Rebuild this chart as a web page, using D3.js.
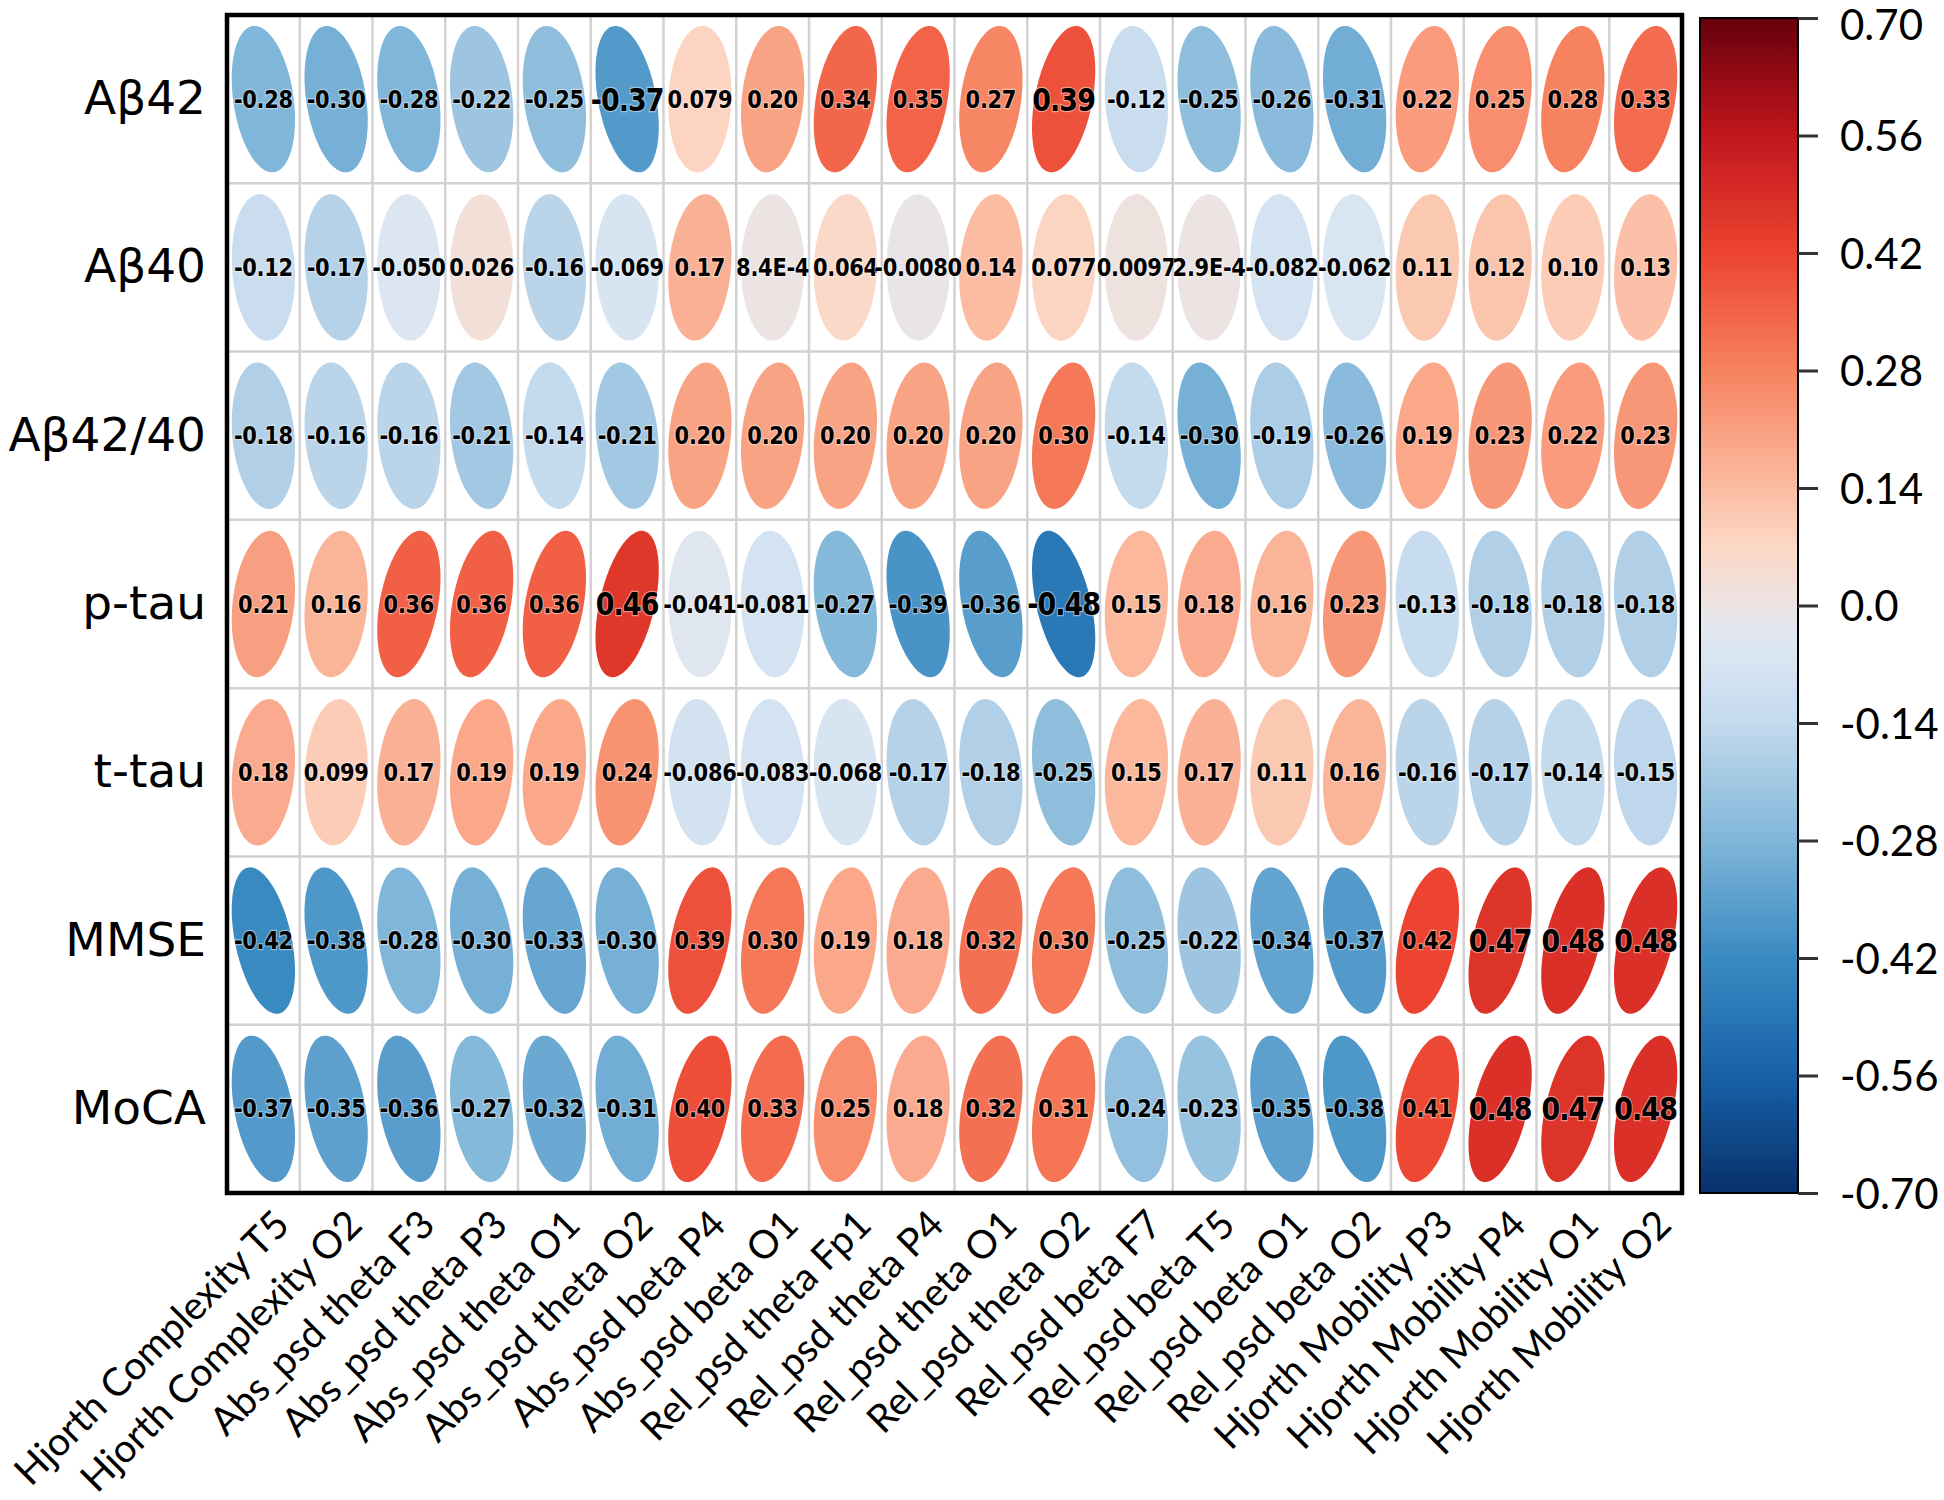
<!DOCTYPE html>
<html><head><meta charset="utf-8">
<script src="https://cdn.jsdelivr.net/npm/d3@7"></script>
<style>body{margin:0;background:#fff}</style>
</head><body>
<svg id="chart" width="1944" height="1500"></svg>
<script>
// ---------------- data ----------------
const rowLabels = ["Aβ42", "Aβ40", "Aβ42/40", "p-tau", "t-tau", "MMSE", "MoCA"];
const colLabels = [
  "Hjorth Complexity T5", "Hjorth Complexity O2",
  "Abs_psd theta F3", "Abs_psd theta P3", "Abs_psd theta O1", "Abs_psd theta O2",
  "Abs_psd beta P4", "Abs_psd beta O1",
  "Rel_psd theta Fp1", "Rel_psd theta P4", "Rel_psd theta O1", "Rel_psd theta O2",
  "Rel_psd beta F7", "Rel_psd beta T5", "Rel_psd beta O1", "Rel_psd beta O2",
  "Hjorth Mobility P3", "Hjorth Mobility P4", "Hjorth Mobility O1", "Hjorth Mobility O2"
];
const valuesAb42   = [-0.28, -0.30, -0.28, -0.22, -0.25, -0.37, 0.079, 0.20, 0.34, 0.35, 0.27, 0.39, -0.12, -0.25, -0.26, -0.31, 0.22, 0.25, 0.28, 0.33];
const valuesAb40   = [-0.12, -0.17, -0.050, 0.026, -0.16, -0.069, 0.17, 8.4e-4, 0.064, -0.0080, 0.14, 0.077, 0.0097, 2.9e-4, -0.082, -0.062, 0.11, 0.12, 0.10, 0.13];
const valuesAb4240 = [-0.18, -0.16, -0.16, -0.21, -0.14, -0.21, 0.20, 0.20, 0.20, 0.20, 0.20, 0.30, -0.14, -0.30, -0.19, -0.26, 0.19, 0.23, 0.22, 0.23];
const valuesPtau   = [0.21, 0.16, 0.36, 0.36, 0.36, 0.46, -0.041, -0.081, -0.27, -0.39, -0.36, -0.48, 0.15, 0.18, 0.16, 0.23, -0.13, -0.18, -0.18, -0.18];
const valuesTtau   = [0.18, 0.099, 0.17, 0.19, 0.19, 0.24, -0.086, -0.083, -0.068, -0.17, -0.18, -0.25, 0.15, 0.17, 0.11, 0.16, -0.16, -0.17, -0.14, -0.15];
const valuesMMSE   = [-0.42, -0.38, -0.28, -0.30, -0.33, -0.30, 0.39, 0.30, 0.19, 0.18, 0.32, 0.30, -0.25, -0.22, -0.34, -0.37, 0.42, 0.47, 0.48, 0.48];
const valuesMoCA   = [-0.37, -0.35, -0.36, -0.27, -0.32, -0.31, 0.40, 0.33, 0.25, 0.18, 0.32, 0.31, -0.24, -0.23, -0.35, -0.38, 0.41, 0.48, 0.47, 0.48];
// cells whose coefficient label is printed larger in the original
const emphasized = [[0, 5], [0, 11], [3, 5], [3, 11], [5, 17], [5, 18], [5, 19], [6, 17], [6, 18], [6, 19]];
const colorTicks = [-0.70, -0.56, -0.42, -0.28, -0.14, 0.0, 0.14, 0.28, 0.42, 0.56, 0.70];
const colorTickLabels = ["-0.70", "-0.56", "-0.42", "-0.28", "-0.14", "0.0", "0.14", "0.28", "0.42", "0.56", "0.70"];
const paletteStops  = [-0.70, -0.56, -0.42, -0.28, -0.14, -0.06, -0.02, 0.0, 0.02, 0.07, 0.14, 0.28, 0.42, 0.56, 0.70];
const paletteColors = ["#08306b", "#1861a8", "#3a8ac2", "#80b6d9", "#c4daed", "#d9e6f3", "#e5e6ed", "#ebe4e3", "#f1e0da", "#fcd8c6", "#fbbca2", "#f7825f", "#ec4431", "#c2161d", "#67000d"];

// ---------------- build table ----------------
const matrix = [valuesAb42, valuesAb40, valuesAb4240, valuesPtau, valuesTtau, valuesMMSE, valuesMoCA];
const cells = [];
matrix.forEach((row, i) => row.forEach((v, j) => cells.push({
  row: rowLabels[i], col: colLabels[j], v,
  big: emphasized.some(e => e[0] === i && e[1] === j)
})));
const fmt = v => (Math.abs(v) < 0.001 ? v.toExponential(1).replace("e", "E") : v.toPrecision(2));

// ---------------- layout ----------------
const svg = d3.select("#chart");
const L = 227, R = 1682, T = 15, B = 1193;
const x = d3.scaleBand().domain(colLabels).range([L, R]);
const y = d3.scaleBand().domain(rowLabels).range([T, B]);
const color = d3.scaleLinear().domain(paletteStops).range(paletteColors).interpolate(d3.interpolateRgb).clamp(true);

svg.append("rect").attr("width", 1944).attr("height", 1500).attr("fill", "#fff");

// grid
const grid = svg.append("g").attr("stroke", "#d2d2d2").attr("stroke-width", 2.5);
grid.selectAll("line.v").data(colLabels.slice(1)).join("line")
  .attr("x1", d => x(d)).attr("x2", d => x(d)).attr("y1", T).attr("y2", B);
grid.selectAll("line.h").data(rowLabels.slice(1)).join("line")
  .attr("y1", d => y(d)).attr("y2", d => y(d)).attr("x1", L).attr("x2", R);

// ellipses
const rx = x.bandwidth() * 0.435, ry = y.bandwidth() * 0.435;
const line = d3.line().curve(d3.curveLinearClosed);
function ellipsePath(d) {
  const cx = x(d.col) + x.bandwidth() / 2, cy = y(d.row) + y.bandwidth() / 2;
  const a = Math.acos(d.v);
  const pts = d3.range(120).map(k => {
    const t = k / 120 * 2 * Math.PI;
    return [cx + rx * Math.cos(t + a / 2), cy - ry * Math.cos(t - a / 2)];
  });
  return line(pts);
}
svg.append("g").selectAll("path").data(cells).join("path")
  .attr("d", ellipsePath).attr("fill", d => color(d.v));

// values
svg.append("g").selectAll("text").data(cells).join("text")
  .attr("transform", d => `translate(${x(d.col) + x.bandwidth() / 2},${y(d.row) + y.bandwidth() / 2}) scale(1,${d.big ? 1.2 : 1.15})`)
  .attr("text-anchor", "middle").attr("dominant-baseline", "central")
  .attr("font-family", "'DejaVu Sans', sans-serif").attr("font-weight", "bold")
  .attr("font-size", d => d.big ? 27 : 21)
  .attr("letter-spacing", d => d.big ? -1 : -0.3)
  .attr("fill", "#000")
  .attr("stroke", "rgba(255,255,255,0.45)").attr("stroke-width", 2).attr("paint-order", "stroke")
  .text(d => fmt(d.v));

// frame
svg.append("rect").attr("x", L).attr("y", T).attr("width", R - L).attr("height", B - T)
  .attr("fill", "none").attr("stroke", "#000").attr("stroke-width", 4.5);

// y axis
const yAxis = svg.append("g").attr("transform", `translate(${L},0)`)
  .call(d3.axisLeft(y).tickSize(0).tickPadding(21));
yAxis.select(".domain").remove();
yAxis.selectAll("text").attr("font-family", "'DejaVu Sans', sans-serif").attr("font-size", 47).attr("fill", "#000");

// x axis
const xAxis = svg.append("g").attr("transform", `translate(0,${B})`)
  .call(d3.axisBottom(x).tickSize(0));
xAxis.select(".domain").remove();
xAxis.selectAll("text")
  .attr("x", 0).attr("y", 0).attr("dy", 0)
  .attr("transform", "translate(28,34) rotate(-45)")
  .style("text-anchor", "end")
  .attr("font-family", "Lato, 'Open Sans', sans-serif").attr("font-size", 39).attr("fill", "#000");

// colorbar
const cbL = 1700, cbR = 1798;
const c = d3.scaleLinear().domain([-0.70, 0.70]).range([B, T + 3]);
const grad = svg.append("defs").append("linearGradient").attr("id", "cbgrad")
  .attr("x1", 0).attr("y1", 1).attr("x2", 0).attr("y2", 0);
grad.selectAll("stop").data(d3.range(0, 1.0001, 0.01)).join("stop")
  .attr("offset", d => d).attr("stop-color", d => color(-0.70 + 1.40 * d));
svg.append("rect").attr("x", cbL).attr("y", c(0.70)).attr("width", cbR - cbL).attr("height", c(-0.70) - c(0.70))
  .attr("fill", "url(#cbgrad)").attr("stroke", "#000").attr("stroke-width", 2);
const cAxis = svg.append("g").attr("transform", `translate(${cbR},0)`)
  .call(d3.axisRight(c).tickValues(colorTicks).tickFormat((d, i) => colorTickLabels[i]).tickSize(20).tickPadding(22));
cAxis.select(".domain").remove();
cAxis.selectAll("line").attr("stroke", "#333").attr("stroke-width", 3);
cAxis.selectAll("text").attr("font-family", "Lato, 'Open Sans', sans-serif").attr("font-size", 42).attr("fill", "#000")
  .attr("dy", (d, i) => i === colorTicks.length - 1 ? "0.52em" : "0.36em");
</script>
</body></html>
